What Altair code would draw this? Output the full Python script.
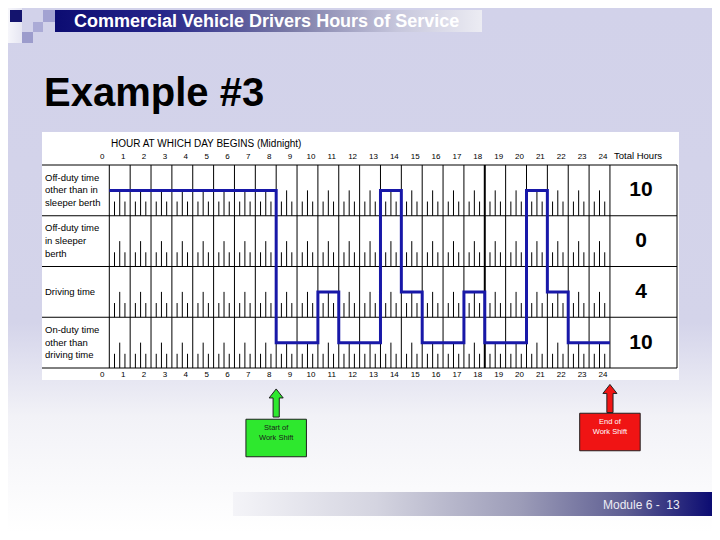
import altair as alt
import pandas as pd

# ---------------- data ----------------
hours = list(range(25))
row_labels = [
    "Off-duty time\nother than in\nsleeper berth",
    "Off-duty time\nin sleeper\nberth",
    "Driving time",
    "On-duty time\nother than\ndriving time",
]
total_hours = [10, 0, 4, 10]
change_hours = [0, 8, 10, 11, 13, 14, 15, 17, 18, 20, 21, 22, 24]
status_rows = [0, 3, 2, 3, 0, 2, 3, 2, 3, 0, 2, 3, 3]
quarter_marks = [0.25, 0.5, 0.75]
shift_hours = [8, 24]
shift_labels = ["Start of\nWork Shift", "End of\nWork Shift"]

slide_title = "Commercial Vehicle Drivers Hours of Service"
heading = "Example #3"
axis_title = "HOUR AT WHICH DAY BEGINS (Midnight)"
total_title = "Total Hours"
footer = "Module 6 -\u00a0 13"

# ---------------- layout ----------------
W, H = 704, 524
OFF = 8            # page margin (slide px -> chart px)
X0 = 109.3 - OFF   # chart px of hour 0
PPH = 20.86        # px per hour
Y0 = 165 - OFF     # chart px of top grid line
PPR = 50.75        # px per row
FONT = "Liberation Sans"
ROW_LH = 12.8

xs = alt.Scale(domain=[-X0 / PPH, (W - X0) / PPH], range=[0, W], nice=False, zero=False)
ys = alt.Scale(domain=[-Y0 / PPR, (H - Y0) / PPR], range=[0, H], nice=False, zero=False)


def v(p):
    return alt.value(p - OFF)


one = alt.Data(values=[{"k": 1}])


def grad(stops, horizontal=True):
    return {
        "gradient": "linear",
        "stops": [{"offset": o, "color": c} for o, c in stops],
        "x1": 0, "y1": 0,
        "x2": 1 if horizontal else 0,
        "y2": 0 if horizontal else 1,
    }


def rect(x1, x2, y1, y2, color, **kw):
    return alt.Chart(one).mark_rect(color=color, **kw).encode(
        x=v(x1), x2=v(x2), y=v(y1), y2=v(y2)
    )


def label(txt, x, y, **kw):
    return alt.Chart(one).mark_text(text=txt, font=FONT, **kw).encode(x=v(x), y=v(y))


layers = []

# slide background
layers.append(rect(OFF, OFF + W, OFF, OFF + H,
                   grad([(0, "#d2d2ea"), (0.6, "#d4d4ea"), (0.78, "#f2f2f7"), (1, "#ffffff")],
                        horizontal=False)))
# decorative squares
layers.append(rect(OFF, 22, OFF, 43, grad([(0, "#f6f6fb"), (1, "#e6e6f2")])))
layers.append(rect(10, 22, 10, 22, "#14146e"))
layers.append(rect(22, 33, 32, 43, "#9c9ccc"))
layers.append(rect(33, 43, 22, 32, "#ababd6"))
layers.append(rect(43, 55, 10, 22, "#a3a3d2"))
# title bar
layers.append(rect(55, 482, 10, 32,
                   grad([(0, "#0c0c72"), (0.25, "#26268a"), (0.55, "#7a7aa6"),
                         (0.8, "#c6c6dc"), (1, "#ececf3")])))
layers.append(label(slide_title, 74, 21.5, align="left", baseline="middle",
                    fontSize=18, fontWeight="bold", color="#ffffff"))
# heading
layers.append(label(heading, 44, 106, align="left", baseline="alphabetic",
                    fontSize=40, fontWeight="bold", color="#000000"))

# white chart box
layers.append(rect(42, 679, 132, 380, "#ffffff"))

# ---------------- log grid ----------------
rows_df = pd.DataFrame({"row": list(range(len(row_labels))),
                        "label": row_labels, "total": total_hours})
rows_df["level"] = rows_df["row"] + 0.5
rows_df["nlines"] = [s.count("\n") + 1 for s in row_labels]

hline_df = pd.DataFrame({"y": list(range(len(row_labels) + 1))})
layers.append(alt.Chart(hline_df).mark_rule(color="#000000", strokeWidth=1).encode(
    x=v(42), x2=v(677), y=alt.Y("y:Q", scale=ys, axis=None)))
layers.append(alt.Chart(pd.DataFrame({"a": [0], "b": [len(row_labels)]}))
              .mark_rule(color="#000000", strokeWidth=1).encode(
    x=v(677), y=alt.Y("a:Q", scale=ys, axis=None), y2="b:Q"))

vline_df = pd.DataFrame({"hour": hours, "a": 0, "b": len(row_labels)})
vline_df["w"] = [2 if h == 18 else 1 for h in hours]
layers.append(alt.Chart(vline_df).mark_rule(color="#000000").encode(
    x=alt.X("hour:Q", scale=xs, axis=None),
    y=alt.Y("a:Q", scale=ys, axis=None), y2="b:Q",
    strokeWidth=alt.StrokeWidth("w:Q", scale=None, legend=None)))

tick_rows = []
for h in hours[:-1]:
    for q in quarter_marks:
        for r in range(len(row_labels)):
            ln = 0.5 if q == 0.5 else 0.28
            tick_rows.append({"x": h + q, "a": r + 1 - ln, "b": r + 1})
ticks_df = pd.DataFrame(tick_rows)
layers.append(alt.Chart(ticks_df).mark_rule(color="#000000", strokeWidth=1).encode(
    x=alt.X("x:Q", scale=xs, axis=None),
    y=alt.Y("a:Q", scale=ys, axis=None), y2="b:Q"))

# duty status line
status_df = pd.DataFrame({"hour": change_hours, "row": status_rows})
layers.append(alt.Chart(status_df).transform_calculate(level="datum.row + 0.5")
              .mark_line(interpolate="step-after", color="#1818a8", strokeWidth=3,
                         strokeJoin="miter").encode(
    x=alt.X("hour:Q", scale=xs, axis=None),
    y=alt.Y("level:Q", scale=ys, axis=None)))

# hour labels
hours_df = pd.DataFrame({"hour": hours, "txt": [str(h) for h in hours]})
for yy in (157, 375):
    layers.append(alt.Chart(hours_df).mark_text(
        font=FONT, fontSize=8, align="center", baseline="middle", dx=-7, color="#000000"
    ).encode(x=alt.X("hour:Q", scale=xs, axis=None), y=v(yy), text="txt:N"))

layers.append(label(axis_title, 111, 144, align="left", baseline="middle",
                    fontSize=10, color="#000000"))
layers.append(label(total_title, 614, 156, align="left", baseline="middle",
                    fontSize=9.5, color="#000000"))

# row labels (multi-line blocks centred on the row) and totals
layers.append(alt.Chart(rows_df).transform_calculate(
    ylab=f"datum.level - (datum.nlines - 1) / 2 * {ROW_LH / PPR}"
).mark_text(
    font=FONT, fontSize=9.5, align="left", baseline="middle", lineBreak="\n",
    lineHeight=ROW_LH, color="#000000"
).encode(x=v(45), y=alt.Y("ylab:Q", scale=ys, axis=None), text="label:N"))
layers.append(alt.Chart(rows_df).mark_text(
    font=FONT, fontSize=21, fontWeight="bold", align="center", baseline="middle",
    color="#000000"
).encode(x=v(641), y=alt.Y("level:Q", scale=ys, axis=None), text="total:N"))

# ---------------- shift markers ----------------
ARROW = "M0,-1 L0.5,-0.36 L0.22,-0.36 L0.22,1 L-0.22,1 L-0.22,-0.36 L-0.5,-0.36 Z"
BOX = "M-1,-0.62 L1,-0.62 L1,0.62 L-1,0.62 Z"
marker_style = [
    {"fill": "#2ee82e", "text": "#1a1a1a", "arrow_y": 403, "box_y": 438, "text_y": 428},
    {"fill": "#f01414", "text": "#ffffff", "arrow_y": 398.5, "box_y": 432, "text_y": 422},
]
for h, lab, st in zip(shift_hours, shift_labels, marker_style):
    mdf = pd.DataFrame({"hour": [h], "label": [lab]})
    base = alt.Chart(mdf)
    layers.append(base.mark_point(shape=ARROW, size=790, filled=True, fill=st["fill"],
                                  stroke="#202020", strokeWidth=1, opacity=1).encode(
        x=alt.X("hour:Q", scale=xs, axis=None), y=v(st["arrow_y"])))
    layers.append(base.mark_point(shape=BOX, size=3660, filled=True, fill=st["fill"],
                                  stroke="#202020", strokeWidth=1, opacity=1).encode(
        x=alt.X("hour:Q", scale=xs, axis=None), y=v(st["box_y"])))
    layers.append(base.mark_text(font=FONT, fontSize=7.5, align="center", baseline="middle",
                                 lineBreak="\n", lineHeight=10, color=st["text"]).encode(
        x=alt.X("hour:Q", scale=xs, axis=None), y=v(st["text_y"]), text="label:N"))

# footer bar
layers.append(rect(233, OFF + W, 492, 516,
                   grad([(0, "#f4f4f8"), (0.3, "#d4d4e0"), (0.6, "#9c9cb8"),
                         (0.82, "#5e5e92"), (1, "#0c0c72")])))
layers.append(label(footer, 603, 504.5, align="left", baseline="middle",
                    fontSize=12, color="#ececf4"))

chart = alt.layer(*layers).properties(
    width=W, height=H, padding=0,
    autosize=alt.AutoSizeParams(type="none"),
).configure_view(stroke="transparent").configure(background="#ffffff")

chart.save("out.html", embed_options={"renderer": "svg", "actions": False})
